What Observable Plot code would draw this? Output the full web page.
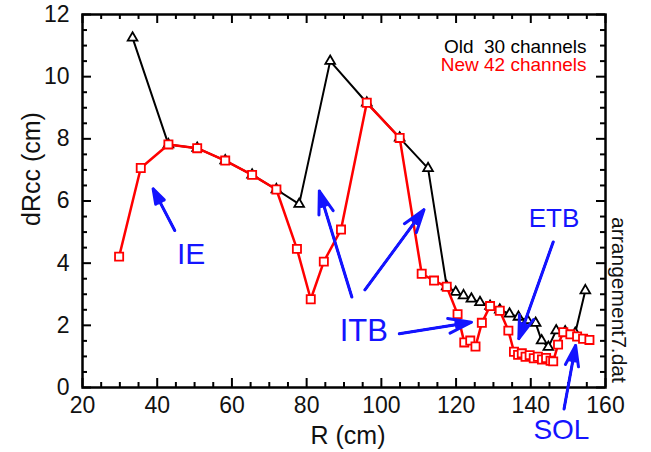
<!DOCTYPE html>
<html><head><meta charset="utf-8">
<script src="https://cdn.jsdelivr.net/npm/d3@7"></script>
<script src="https://cdn.jsdelivr.net/npm/@observablehq/plot@0.6"></script>
<style>
body{margin:0;background:#fff;}
svg text{white-space:pre;}
</style></head><body><div id="chart"></div>
<script>
// Old 30 channels (black triangles)
const oldR = [33.4, 43.0, 50.7, 58.2, 65.4, 71.9, 78.0, 86.3, 96.1, 104.9, 112.5, 117.5, 119.9, 122.0, 124.1, 126.4, 129.1, 131.7, 134.3, 136.7, 139.1, 141.3, 142.9, 144.7, 146.8, 149.2, 151.9, 154.6];
const oldD = [11.25, 7.82, 7.70, 7.30, 6.84, 6.37, 5.90, 10.5, 9.16, 8.03, 7.05, 3.25, 3.07, 2.96, 2.85, 2.74, 2.62, 2.50, 2.37, 2.27, 2.16, 2.07, 1.51, 1.30, 1.83, 1.80, 1.75, 3.12];
// New 42 channels (red squares)
const newR = [29.8, 35.6, 43.0, 50.7, 58.2, 65.4, 71.9, 77.4, 81.1, 84.6, 89.2, 96.1, 104.9, 110.8, 114.1, 117.5, 120.4, 122.2, 123.8, 125.2, 126.9, 129.1, 131.7, 134.0, 135.5, 136.6, 137.6, 138.6, 139.7, 140.8, 141.9, 143.0, 144.1, 145.3, 146.0, 147.3, 148.7, 150.6, 152.4, 154.0, 155.7];
const newD = [4.21, 7.06, 7.82, 7.70, 7.30, 6.84, 6.37, 4.46, 2.84, 4.05, 5.08, 9.16, 8.03, 3.66, 3.44, 3.24, 2.36, 1.45, 1.51, 1.32, 2.08, 2.62, 2.47, 1.83, 1.15, 1.05, 1.10, 0.99, 1.04, 0.94, 0.99, 0.90, 0.95, 0.86, 0.84, 1.38, 1.78, 1.71, 1.64, 1.57, 1.53];
const legendLines = ["Old  30 channels", "New 42 channels"];
const xTickLabels = [20, 40, 60, 80, 100, 120, 140, 160];
const yTickLabels = [0, 2, 4, 6, 8, 10, 12];
const xMinor = [25, 30, 35, 45, 50, 55, 65, 70, 75, 85, 90, 95, 105, 110, 115, 125, 130, 135, 145, 150, 155];
const yMinor = [0.5, 1, 1.5, 2.5, 3, 3.5, 4.5, 5, 5.5, 6.5, 7, 7.5, 8.5, 9, 9.5, 10.5, 11, 11.5];
// annotations (data coordinates)
const arrowsData = [
  {x1: 44.7, y1: 5.05, x2: 38.9, y2: 6.39},
  {x1: 92.1, y1: 2.91, x2: 83.4, y2: 6.32},
  {x1: 95.6, y1: 3.14, x2: 111.4, y2: 5.72},
  {x1: 104.8, y1: 1.73, x2: 124.1, y2: 2.10},
  {x1: 146.0, y1: 4.68, x2: 136.8, y2: 1.57},
  {x1: 148.9, y1: -0.69, x2: 152.0, y2: 1.35}
];
const labelIE = {x: 49.1, y: 4.28, t: "IE"};
const labelITB = {x: 95.3, y: 1.83, t: "ITB"};
const labelETB = {x: 146.2, y: 5.44, t: "ETB"};
const labelSOL = {x: 148.2, y: -1.38, t: "SOL"};

const oldData = oldR.map((r, i) => ({r, d: oldD[i]}));
const newData = newR.map((r, i) => ({r, d: newD[i]}));

const W = 651, H = 452, mL = 82, mR = 46, mT = 14, mB = 65;
const iw = W - mL - mR, ih = H - mT - mB;
const FONT = "Liberation Sans, Arial, Helvetica, sans-serif";
const BLUE = "#1414ff";

function xTicks(vals, len) {
  return [
    Plot.tickX(vals, {x: d => d, stroke: "black", strokeWidth: 2, insetTop: ih - len}),
    Plot.tickX(vals, {x: d => d, stroke: "black", strokeWidth: 2, insetBottom: ih - len})
  ];
}
function yTicks(vals, len) {
  return [
    Plot.tickY(vals, {y: d => d, stroke: "black", strokeWidth: 2, insetRight: iw - len}),
    Plot.tickY(vals, {y: d => d, stroke: "black", strokeWidth: 2, insetLeft: iw - len})
  ];
}
function label(o, size) {
  return Plot.text([o], {x: "x", y: "y", text: "t", fill: BLUE, fontSize: size, fontFamily: FONT});
}
// arrows with filled-looking heads: several head angles overlaid
const arrowMarks = [
  Plot.arrow(arrowsData, {x1: "x1", y1: "y1", x2: "x2", y2: "y2", stroke: BLUE, strokeWidth: 3, headLength: 12, headAngle: 36}),
  ...[10, 20, 28].map(a =>
    Plot.arrow(arrowsData, {x1: "x1", y1: "y1", x2: "x2", y2: "y2", stroke: BLUE, strokeWidth: 2, headLength: 12, headAngle: a}))
];

const chart = Plot.plot({
  width: W, height: H,
  marginLeft: mL, marginRight: mR, marginTop: mT, marginBottom: mB,
  style: {fontFamily: FONT, background: "white", overflow: "visible"},
  x: {domain: [20, 160]},
  y: {domain: [0, 12]},
  marks: [
    Plot.axisX(xTickLabels, {tickSize: 0, tickPadding: 9, fontSize: 23, label: null, fill: "#111"}),
    Plot.axisY(yTickLabels, {tickSize: 0, tickPadding: 13, fontSize: 23, label: null, fill: "#111"}),
    ...xTicks(xTickLabels, 9), ...xTicks(xMinor, 5),
    ...yTicks(yTickLabels, 9), ...yTicks(yMinor, 5),
    Plot.frame({stroke: "black", strokeWidth: 2.5}),
    Plot.text(["R (cm)"], {frameAnchor: "bottom", dx: 4, dy: 48, lineAnchor: "middle", textAnchor: "middle", fontSize: 25, fill: "#111"}),
    Plot.text(["dRcc (cm)"], {frameAnchor: "left", dx: -51, dy: -32, rotate: -90, textAnchor: "middle", lineAnchor: "middle", fontSize: 25, fill: "#111"}),
    Plot.text(["arrangement7.dat"], {frameAnchor: "right", dx: 13, dy: 99, rotate: 90, textAnchor: "middle", lineAnchor: "middle", fontSize: 21, fill: "#111"}),
    Plot.text([legendLines[0]], {frameAnchor: "top-right", dx: -19, dy: 25, textAnchor: "end", lineAnchor: "top", fontSize: 19, fill: "black"}),
    Plot.text([legendLines[1]], {frameAnchor: "top-right", dx: -19, dy: 43, textAnchor: "end", lineAnchor: "top", fontSize: 19, fill: "red"}),
    Plot.line(oldData, {x: "r", y: "d", stroke: "black", strokeWidth: 2}),
    Plot.dot(oldData, {x: "r", y: "d", symbol: "triangle", r: 3.6, stroke: "black", strokeWidth: 1.8, fill: "white"}),
    Plot.line(newData, {x: "r", y: "d", stroke: "red", strokeWidth: 2.5}),
    Plot.dot(newData, {x: "r", y: "d", symbol: "square", r: 4.6, stroke: "red", strokeWidth: 1.8, fill: "white"}),
    ...arrowMarks,
    label(labelIE, 30), label(labelITB, 31), label(labelETB, 26), label(labelSOL, 28)
  ]
});
document.getElementById("chart").appendChild(chart);
</script></body></html>
